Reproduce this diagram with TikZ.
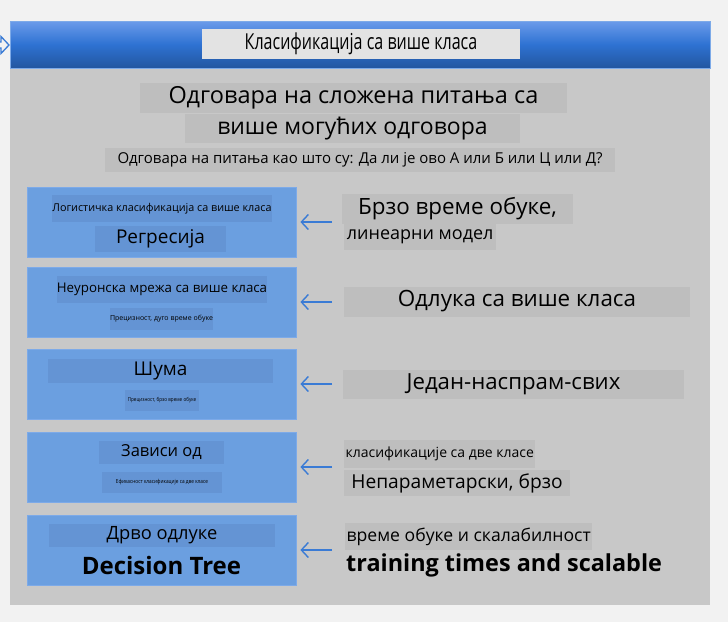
\documentclass[tikz,border=0pt]{standalone}
\usepackage{fontspec}
\setmainfont{Open Sans}
\newfontfamily\condfont[FakeStretch=0.73]{Open Sans}
\newfontfamily\narrowfont[FakeStretch=0.85]{Open Sans}
\usetikzlibrary{arrows.meta,calc}
\definecolor{pagebg}{HTML}{F2F2F2}
\definecolor{panelbg}{HTML}{C8C8C8}
\definecolor{lblbg}{HTML}{BEBEBE}
\definecolor{titlebg}{HTML}{E3E3E3}
\definecolor{boxblue}{HTML}{6B9FE0}
\definecolor{boxedge}{HTML}{7DAAE8}
\definecolor{innerblue}{HTML}{6494D4}
\definecolor{arrowblue}{HTML}{3A7BD5}
\definecolor{hdtop}{HTML}{6B9BEA}
\definecolor{hdmid}{HTML}{2E72D2}
\definecolor{hdbot}{HTML}{2256A0}
\tikzset{
  fs/.style={font=\fontsize{#1}{#1}\selectfont},
  glbl/.style={fill=lblbg, inner sep=0pt, align=center, text=black},
  ibox/.style={fill=innerblue, inner sep=0pt, align=center, text=black},
  bbox/.style={fill=boxblue, draw=boxedge, line width=0.8pt, minimum width=269pt, minimum height=70pt, inner sep=0pt},
  conn/.style={draw=arrowblue, line width=1.4pt, -{Straight Barb[length=7pt,width=15pt,line width=1.4pt]}},
}
\begin{document}
\begin{tikzpicture}[x=1pt,y=-1pt]
\useasboundingbox (0,0) rectangle (728,622);
\fill[pagebg] (0,0) rectangle (728,622);
% panel and header
\fill[panelbg] (10,68) rectangle (710,605);
\shade[top color=hdtop, bottom color=hdbot, middle color=hdmid] (10,21) rectangle (710,68);
\draw[boxedge, line width=0.6pt] (10,21) rectangle (710,68);
% small double arrow at left edge
\draw[arrowblue, line width=1.3pt, line join=miter] (-12,42) -- (1,42) -- (1,36.5) -- (9,45) -- (1,53.5) -- (1,48) -- (-12,48);
% title
\node[fill=titlebg, inner sep=0pt, minimum width=318pt, minimum height=30pt, fs=22] (title) at (361,44) {\condfont Класификација са више класа};
% question text
\node[glbl, minimum width=427pt, minimum height=30pt, fs=23.5] (q1) at (353.5,98) {Одговара на сложена питања са};
\node[glbl, minimum width=335pt, minimum height=29pt, fs=23] (q2) at (352.5,128.5) {више могућих одговора};
\node[glbl, minimum width=510pt, minimum height=24pt, fs=15] (q3) at (360,160) {Одговара на питања као што су: Да ли је ово А или Б или Ц или Д?};
% left boxes
\node[bbox] (b1) at (161.5,222) {};
\node[bbox] (b2) at (161.5,302) {};
\node[bbox] (b3) at (161.5,384) {};
\node[bbox] (b4) at (161.5,467) {};
\node[bbox] (b5) at (161.5,550) {};
% inner labels
\node[ibox, minimum width=220pt, minimum height=27pt, fs=10.8] (b1a) at (162,208.5) {Логистичка класификација са више класа};
\node[ibox, minimum width=131pt, minimum height=26pt, fs=19] (b1b) at (160.5,239) {Регресија};
\node[ibox, minimum width=210pt, minimum height=27pt, fs=13.3] (b2a) at (162,289.5) {Неуронска мрежа са више класа};
\node[ibox, minimum width=103pt, minimum height=22pt, fs=7] (b2b) at (161.5,319) {Прецизност, дуго време обуке};
\node[ibox, minimum width=225pt, minimum height=24pt, fs=19] (b3a) at (160.5,371) {Шума};
\node[ibox, minimum width=74pt, minimum height=21pt, fs=5.4] (b3b) at (162,400.5) {\narrowfont Прецизност, брзо време обуке};
\node[ibox, minimum width=125pt, minimum height=23pt, fs=16.5] (b4a) at (161.5,452.5) {Зависи од};
\node[ibox, minimum width=120pt, minimum height=21pt, fs=5.6] (b4b) at (162,482.5) {\narrowfont Ефикасност класификације са две класе};
\node[ibox, minimum width=226pt, minimum height=23pt, fs=18.3] (b5a) at (162,535.5) {Дрво одлуке};
\node[inner sep=0pt, fs=24] (b5b) at (161.5,565) {\bfseries Decision Tree};
% right labels
\node[glbl, minimum width=231pt, minimum height=30pt, fs=22.4] (r1a) at (457.5,209) {Брзо време обуке,};
\node[glbl, minimum width=152pt, minimum height=26pt, fs=18, anchor=west] (r1b) at (344,237) {линеарни модел};
\node[glbl, minimum width=346pt, minimum height=30pt, fs=22.4] (r2) at (517,301.5) {Одлука са више класа};
\node[glbl, minimum width=341pt, minimum height=29pt, fs=22.2] (r3) at (513.5,384.5) {Један-наспрам-свих};
\node[glbl, minimum width=191pt, minimum height=28pt, fs=14, anchor=west] (r4a) at (344,454) {класификације са две класе};
\node[glbl, minimum width=226pt, minimum height=26pt, fs=19.2] (r4b) at (457,483) {Непараметарски, брзо};
\node[glbl, minimum width=247pt, minimum height=27pt, fs=17.6, anchor=west] (r5a) at (345,536.5) {време обуке и скалабилност};
\node[inner sep=0pt, fs=23.4, anchor=west] (r5b) at (346,565) {\bfseries training times and scalable};
% connectors
\coordinate (s1) at (332,222);
\coordinate (s2) at (332,302);
\coordinate (s3) at (332,384);
\coordinate (s4) at (332,467);
\coordinate (s5) at (332,550);
\draw[conn] (s1) -- ($(b1.east)+(4,0)$);
\draw[conn] (s2) -- ($(b2.east)+(4,0)$);
\draw[conn] (s3) -- ($(b3.east)+(4,0)$);
\draw[conn] (s4) -- ($(b4.east)+(4,0)$);
\draw[conn] (s5) -- ($(b5.east)+(4,0)$);
\end{tikzpicture}
\end{document}
